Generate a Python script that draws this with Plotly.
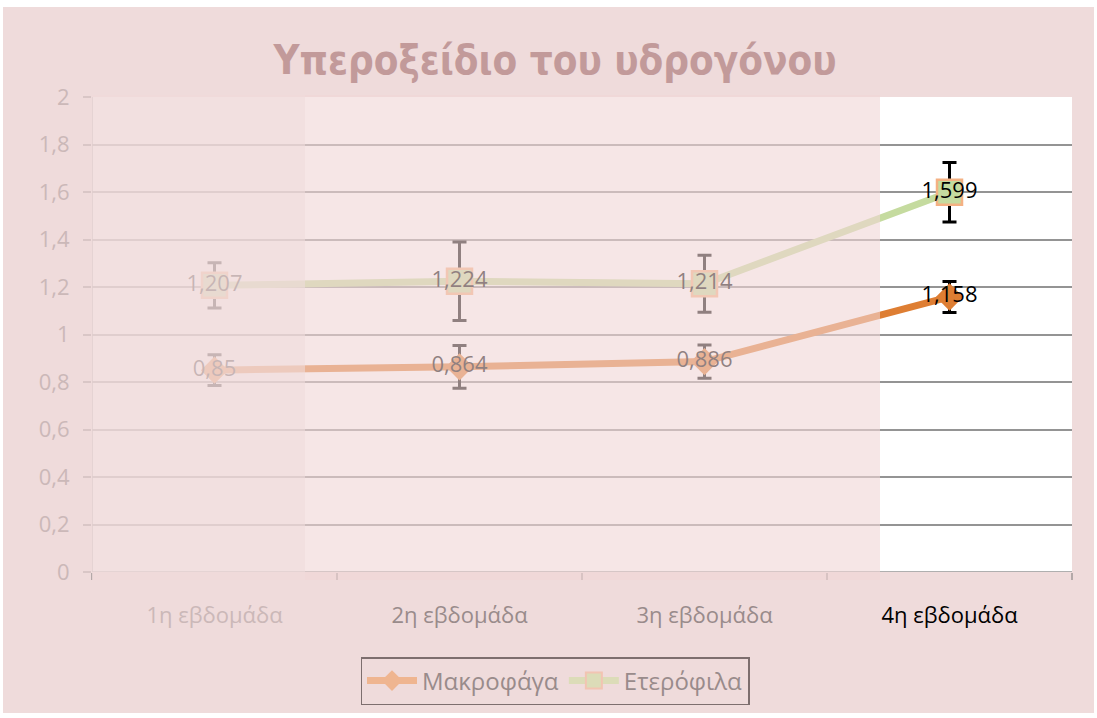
import plotly.graph_objects as go

# Weekly hydrogen peroxide readings for two cell types
weeks = ["1η εβδομάδα", "2η εβδομάδα", "3η εβδομάδα", "4η εβδομάδα"]
macrophages = [0.85, 0.864, 0.886, 1.158]
macrophages_err = [0.065, 0.09, 0.07, 0.065]
heterophils = [1.207, 1.224, 1.214, 1.599]
heterophils_err = [0.095, 0.165, 0.12, 0.125]
series_names = ["Μακροφάγα", "Ετερόφιλα"]
title_text = "Υπεροξείδιο του υδρογόνου"

FONT = "Open Sans, Noto Sans, DejaVu Sans, sans-serif"
W, H = 1097, 718
L, R, T, B = 92, 25, 97, 146
PW, PH = W - L - R, H - T - B

BG = "#efdbdb"
ORANGE = "#de7e33"
GREEN = "#c5db9f"
SQ_EDGE = "#f4b183"
GRID = "#949494"

tick_colors = ["#cbb8b8", "#998b8b", "#998b8b", "#000000"]


def fmt(v):
    return f"{v:g}".replace(".", ",")


fig = go.Figure()

fig.add_trace(go.Scatter(
    x=weeks, y=macrophages, mode="lines+markers+text",
    name=series_names[0], showlegend=False,
    line=dict(color=ORANGE, width=7),
    marker=dict(symbol="diamond", size=21, color=ORANGE),
    error_y=dict(type="data", array=macrophages_err, color="black", thickness=3, width=7),
    text=[fmt(v) for v in macrophages], textposition="middle center",
    textfont=dict(family=FONT, size=22, color="black"),
))
fig.add_trace(go.Scatter(
    x=weeks, y=heterophils, mode="lines+markers+text",
    name=series_names[1], showlegend=False,
    line=dict(color=GREEN, width=7),
    marker=dict(symbol="square", size=25, color=GREEN, line=dict(color=SQ_EDGE, width=2.5)),
    error_y=dict(type="data", array=heterophils_err, color="black", thickness=3, width=7),
    text=[fmt(v) for v in heterophils], textposition="middle center",
    textfont=dict(family=FONT, size=22, color="black"),
))

# legend entries in the washed-out tone of the surrounding chart area
fig.add_trace(go.Scatter(
    x=[None], y=[None], mode="lines+markers", name=series_names[0],
    line=dict(color="#efb590", width=7),
    marker=dict(symbol="diamond", size=16, color="#efb590"),
))
fig.add_trace(go.Scatter(
    x=[None], y=[None], mode="lines+markers", name=series_names[1],
    line=dict(color="#dcdcb8", width=7),
    marker=dict(symbol="square", size=18, color="#dcdcb8", line=dict(color="#f2c4b2", width=2)),
))


def px_to_cat(px):
    return (px - L) / (PW / len(weeks)) - 0.5


shapes = []
# axis lines drawn as shapes so the washes can sit on top of them
shapes.append(dict(type="line", xref="x", yref="y", layer="below",
                   x0=-0.5, x1=len(weeks) - 0.5, y0=0, y1=0,
                   line=dict(color=GRID, width=1.75)))
shapes.append(dict(type="line", xref="x", yref="y", layer="below",
                   x0=-0.5, x1=-0.5, y0=0, y1=2,
                   line=dict(color=GRID, width=1.5)))
# washes over the plot area: strong on the left, lighter in the middle
shapes.append(dict(type="rect", xref="x", yref="paper", layer="above",
                   x0=px_to_cat(L - 3), x1=px_to_cat(305), y0=-8 / PH, y1=1.004,
                   fillcolor="rgb(239,218,218)", opacity=0.83, line_width=0))
shapes.append(dict(type="rect", xref="x", yref="paper", layer="above",
                   x0=px_to_cat(305), x1=px_to_cat(880), y0=-8 / PH, y1=1.004,
                   fillcolor="rgb(240,214,214)", opacity=0.6, line_width=0))
# thin white frame around the chart area
for x0, x1, y0, y1 in [(0, W, 0, 7), (0, 3, 0, H), (W - 3, W, 0, H), (0, W, H - 5, H)]:
    shapes.append(dict(type="rect", xref="paper", yref="paper", layer="below",
                       x0=(x0 - L) / PW, x1=(x1 - L) / PW,
                       y0=(H - B - y1) / PH, y1=(H - B - y0) / PH,
                       fillcolor="white", line_width=0))

fig.update_layout(
    width=W, height=H,
    margin=dict(l=L, r=R, t=T, b=B),
    paper_bgcolor=BG, plot_bgcolor="white",
    separators=", ",
    font=dict(family=FONT, size=22, color="#998b8b"),
    title=dict(text="<b>" + title_text + "</b>", x=555 / W, xref="container", xanchor="center",
               y=1 - 60 / H, yref="container", yanchor="middle",
               font=dict(family="DejaVu Sans Condensed, Open Sans, sans-serif", size=40, color="#c29a9a")),
    showlegend=True,
    legend=dict(orientation="h", xref="container", yref="container",
                x=555 / W, xanchor="center", y=1 - 681 / H, yanchor="middle",
                bgcolor="rgba(0,0,0,0)", bordercolor="#7d6e6e", borderwidth=1.5,
                font=dict(family=FONT, size=24, color="#998b8b"),
                itemwidth=50),
    shapes=shapes,
)

fig.update_xaxes(
    type="category", categoryorder="array", categoryarray=weeks,
    range=[-0.5, len(weeks) - 0.5],
    tickmode="array", tickvals=weeks,
    ticktext=[f'<span style="color:{c}">{w}</span>' for w, c in zip(weeks, tick_colors)],
    tickson="boundaries", ticks="outside", ticklen=7, tickwidth=1.5, tickcolor="#b3a8a8",
    showline=False, showgrid=False, ticklabelstandoff=28,
    tickfont=dict(family=FONT, size=22),
)
fig.update_yaxes(
    range=[0, 2], dtick=0.2, tick0=0,
    showgrid=True, gridcolor=GRID, gridwidth=1.75,
    ticks="outside", ticklen=8, tickwidth=1.5, tickcolor="#d9c6c6",
    showline=False, zeroline=False, ticklabelstandoff=9,
    tickfont=dict(family=FONT, size=22, color="#cbb8b8"),
)

fig.write_html("out.html")
